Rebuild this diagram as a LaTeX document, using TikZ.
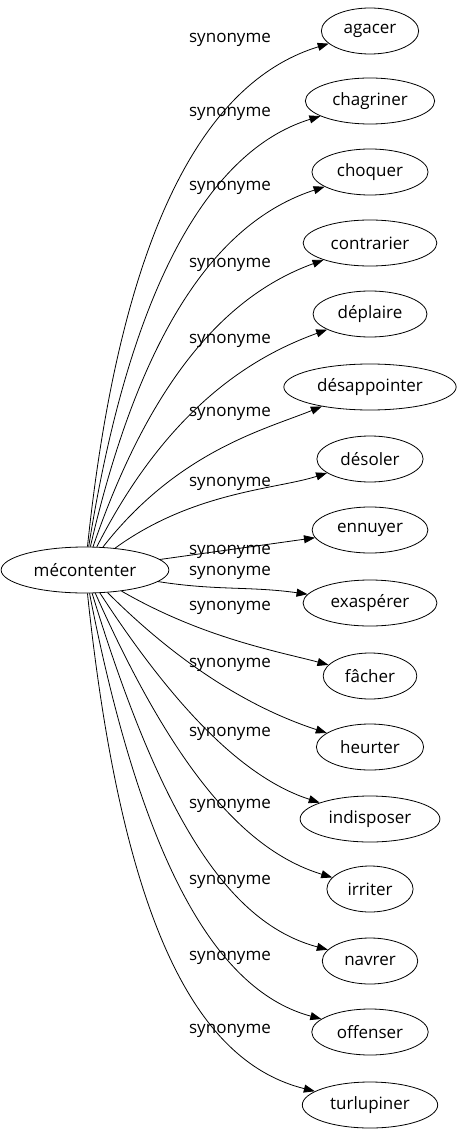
\documentclass[tikz,border=0pt]{standalone}
\usepackage{fontspec}
\setmainfont{Open Sans}
\usetikzlibrary{shapes.geometric,arrows.meta}
\tikzset{
  word/.style={draw, ellipse, line width=0.8pt, minimum height=46pt,
               inner xsep=8pt, font=\fontsize{17}{20}\selectfont},
  syn/.style={-{Triangle[length=11pt,width=8pt]}, line width=0.8pt},
  lbl/.style={font=\fontsize{17}{20}\selectfont, inner sep=0pt}
}
\begin{document}
\begin{tikzpicture}
\useasboundingbox (0,0) rectangle (457pt,-1139pt);
\begin{scope}[x=1pt,y=1pt]
\node[word] (src) at (85,-570) {mécontenter};
% word / y of word / out / in / out looseness / in looseness / y of label
\foreach \w/\y/\a/\b/\lo/\li/\ly [count=\i] in {
  agacer/31/84/197/1.55/0.55/40,
  chagriner/101/81/197/1.5/0.55/114,
  choquer/172/77/198/1.45/0.6/188,
  contrarier/243/71/200/1.4/0.6/265,
  déplaire/314/63/200/1.3/0.6/341,
  désappointer/387/52/202/1.2/0.6/414,
  désoler/459/36/198/1.1/0.6/484,
  ennuyer/530/8/188/1/1/552,
  exaspérer/603/-9/172/1/1/573,
  fâcher/676/-30/165/1.1/0.6/608,
  heurter/747/-45/162/1.2/0.6/665,
  indisposer/819/-57/162/1.3/0.6/734,
  irriter/889/-66/163/1.4/0.6/806,
  navrer/961/-73/165/1.45/0.6/882,
  offenser/1032/-79/165/1.5/0.55/958,
  turlupiner/1105/-84/166/1.6/0.55/1031}
{
  \node[word] (t\i) at (370,-\y) {\w};
  \node[lbl] (l\i) at (230,-\ly) {synonyme};
  \draw[syn] (src) to[out=\a,in=\b,out looseness=\lo,in looseness=\li] (t\i);
}
\end{scope}
\end{tikzpicture}
\end{document}
